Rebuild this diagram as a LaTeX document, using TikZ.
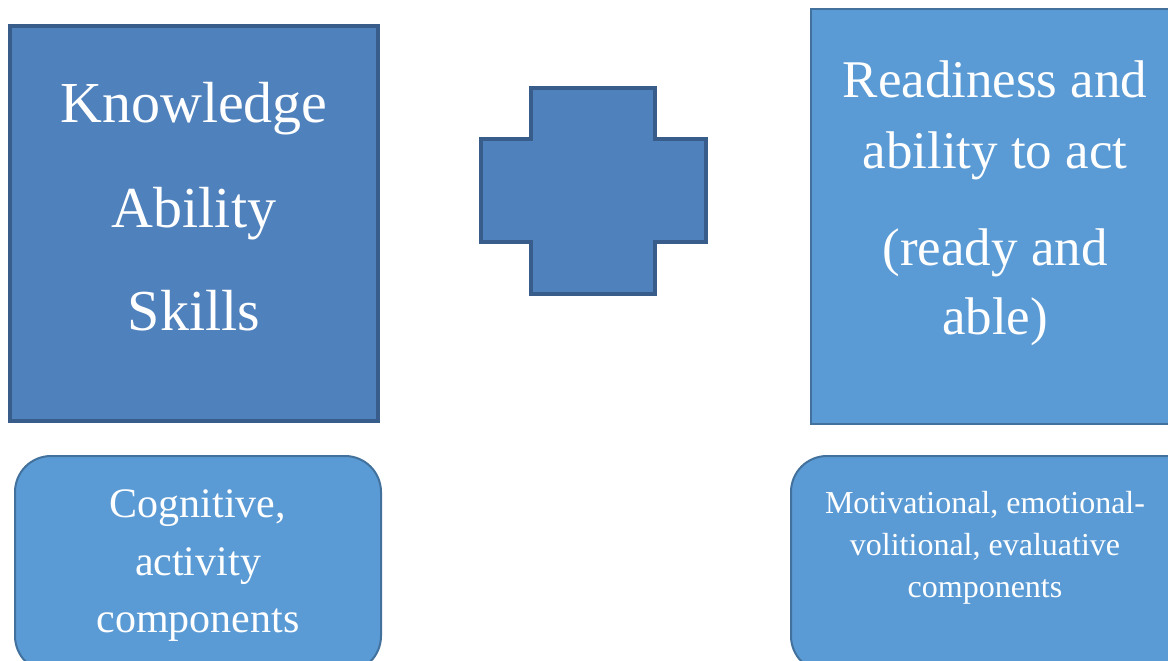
\documentclass[tikz,border=0pt]{standalone}
\usepackage{fontspec}
\setmainfont{Liberation Serif}
\definecolor{darkfill}{HTML}{4F81BD}
\definecolor{darkedge}{HTML}{385D8A}
\definecolor{lightfill}{HTML}{5B9BD5}
\definecolor{lightedge}{HTML}{41719C}
\tikzset{
  bigbox/.style={rectangle, fill=darkfill, draw=darkedge, line width=3.5pt, inner sep=0pt},
  readybox/.style={rectangle, fill=lightfill, draw=lightedge, line width=2.5pt, inner sep=0pt},
  roundbox/.style={rectangle, rounded corners=36pt, fill=lightfill, draw=lightedge, line width=2pt, inner sep=0pt},
  txt/.style={text=white, anchor=base, inner sep=0pt},
}
\begin{document}
\begin{tikzpicture}[x=1pt,y=-1pt]
\useasboundingbox (0,0) rectangle (1168,661);
\clip (0,0) rectangle (1168,661);

% knowledge box
\node[bigbox, minimum width=368pt, minimum height=395pt] (know) at (194,223.5) {};
\node[txt, font=\fontsize{58}{60}\selectfont] (k1) at (194,122) {Knowledge};
\node[txt, font=\fontsize{58}{60}\selectfont] (k2) at (194,227) {Ability};
\node[txt, font=\fontsize{58}{60}\selectfont] (k3) at (194,330) {Skills};

% plus sign
\draw[fill=darkfill, draw=darkedge, line width=4.5pt, line join=miter]
  (531,88) -- (655,88) -- (655,139) -- (706,139) -- (706,242) -- (655,242)
  -- (655,294) -- (531,294) -- (531,242) -- (481,242) -- (481,139) -- (531,139) -- cycle;
\coordinate (plus) at (593,191);

% readiness box
\node[readybox, minimum width=380pt, minimum height=415pt] (ready) at (1001,216.5) {};
\node[txt, font=\fontsize{53}{55}\selectfont] (r1) at (995,98) {Readiness and};
\node[txt, font=\fontsize{53}{55}\selectfont] (r2) at (995,168) {ability to act};
\node[txt, font=\fontsize{53}{55}\selectfont] (r3) at (995,265) {(ready and};
\node[txt, font=\fontsize{53}{55}\selectfont] (r4) at (995,334) {able)};

% component boxes
\node[roundbox, minimum width=366pt, minimum height=216pt] (cog) at (198,564) {};
\node[txt, font=\fontsize{42}{44}\selectfont] (c1) at (198,517) {Cognitive,};
\node[txt, font=\fontsize{42}{44}\selectfont] (c2) at (198,575) {activity};
\node[txt, font=\fontsize{42}{44}\selectfont] (c3) at (198,632) {components};

\node[roundbox, minimum width=420pt, minimum height=216pt] (mot) at (1001,564) {};
\node[txt, font=\fontsize{32}{34}\selectfont] (m1) at (985,513) {Motivational, emotional-};
\node[txt, font=\fontsize{32}{34}\selectfont] (m2) at (985,555) {volitional, evaluative};
\node[txt, font=\fontsize{32}{34}\selectfont] (m3) at (985,597) {components};
\end{tikzpicture}
\end{document}
